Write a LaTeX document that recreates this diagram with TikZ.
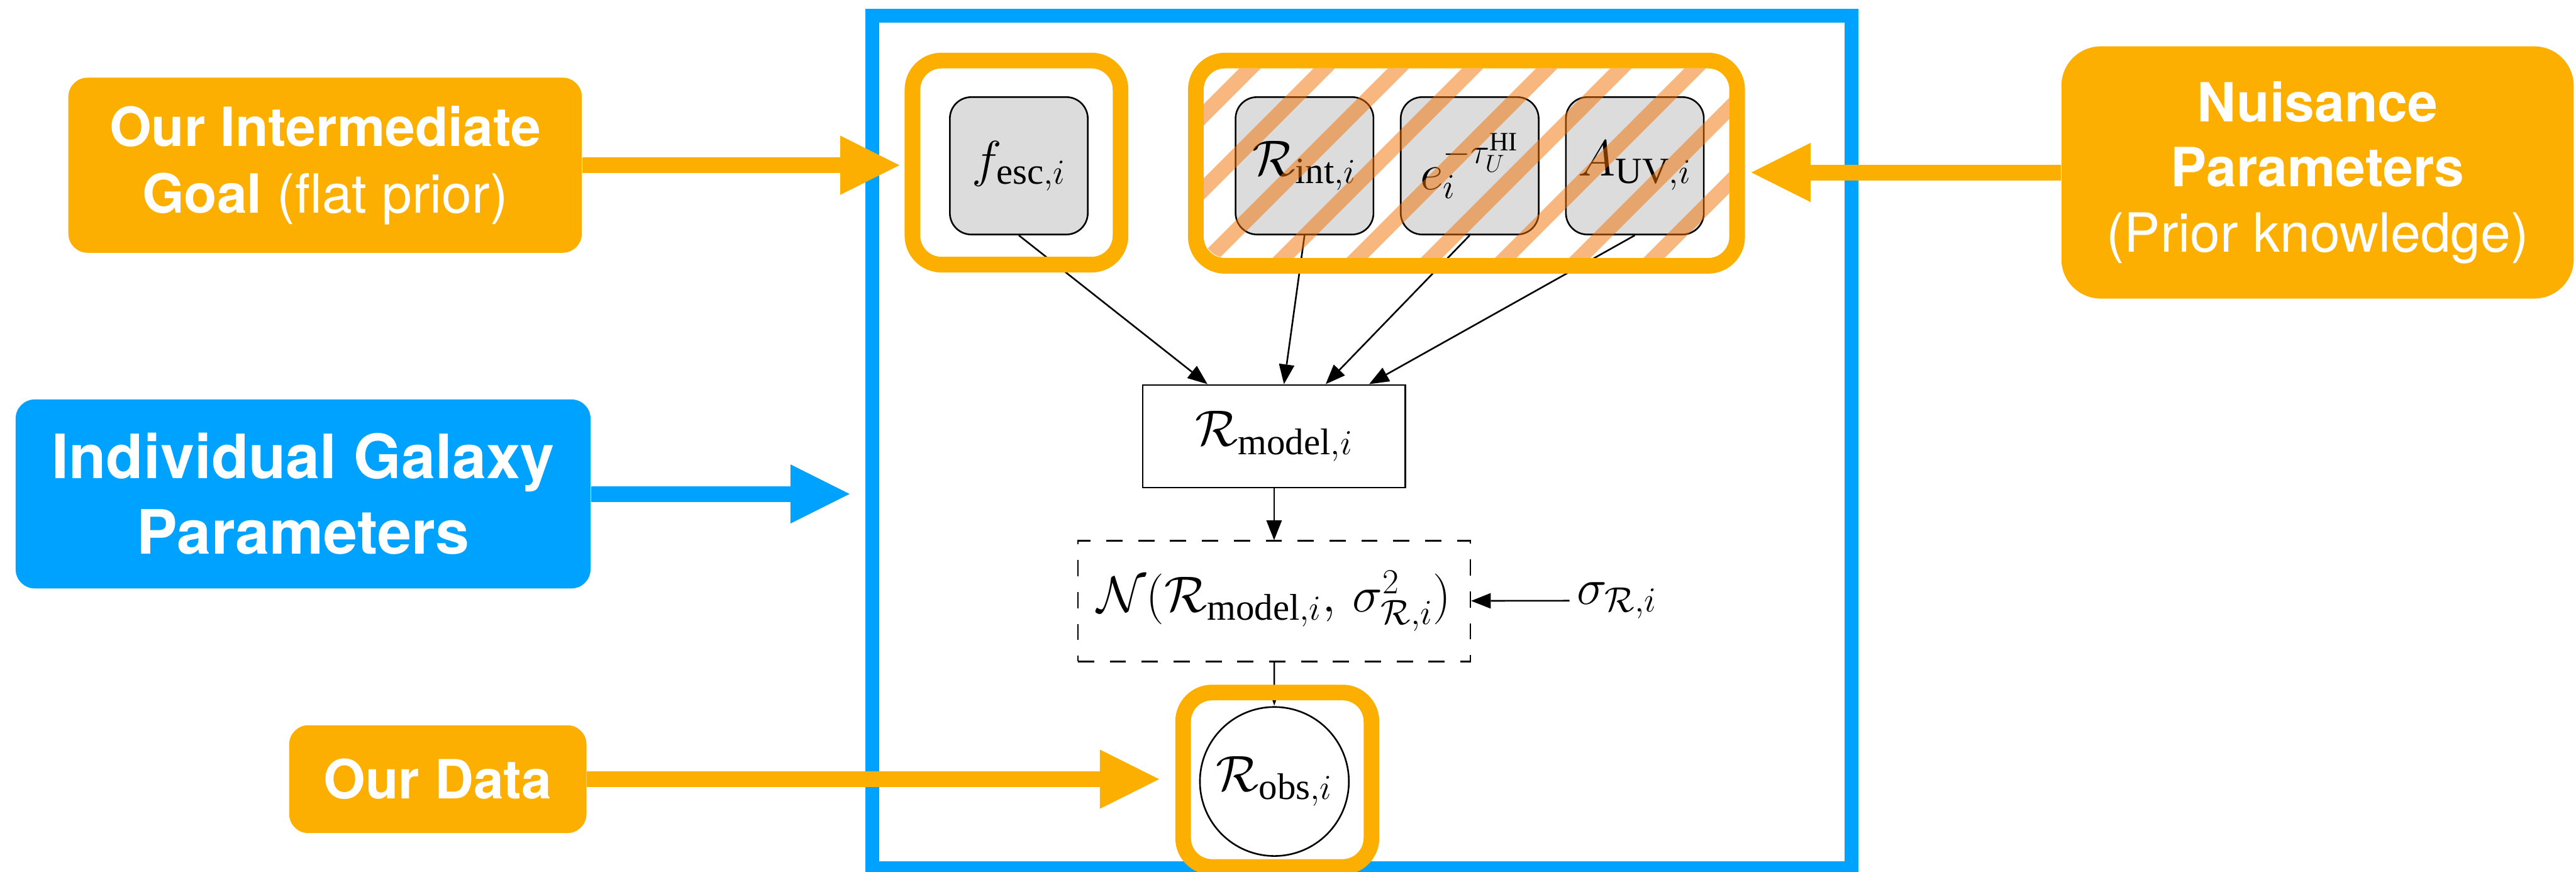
\documentclass[tikz,border=0pt]{standalone}
\usepackage{fontspec}
\setmainfont{Liberation Serif}
\newfontfamily\labelfont{TeX Gyre Heros}
\usetikzlibrary{arrows.meta}

\definecolor{goalorange}{RGB}{253,175,0}
\definecolor{plateblue}{RGB}{0,162,255}
\definecolor{nodegray}{RGB}{220,220,220}
\definecolor{hatchorange}{RGB}{240,112,0}

\begin{document}
\begin{tikzpicture}[
  every node/.append style={font=\fontsize{26}{30}\selectfont},
  var/.style={draw, fill=nodegray, rounded corners=0.37cm, minimum width=2.38cm, minimum height=2.37cm, line width=0.8pt, inner sep=0pt},
  det/.style={draw, minimum width=4.53cm, minimum height=1.77cm, line width=0.8pt},
  lik/.style={draw, dash pattern=on 0.28cm off 0.27cm, minimum width=6.77cm, minimum height=2.08cm, line width=0.8pt},
  obs/.style={draw, circle, minimum size=2.57cm, line width=0.8pt, inner sep=0pt},
  ring/.style={draw=goalorange, line width=0.27cm, rounded corners=0.5cm, outer sep=0pt},
  tag/.style={fill=goalorange, text=white, rounded corners=0.33cm, align=center, font=\labelfont\fontsize{26.5}{32.7}\selectfont},
  link/.style={line width=0.8pt, -{Triangle[length=0.34cm, width=0.27cm, line width=0pt]}},
  fat/.style={line width=0.27cm, -{Triangle[length=1.02cm, width=1.02cm, line width=0pt]}},
  hatch/.style={hatchorange, opacity=0.5, line width=0.26cm}
]
\useasboundingbox (0,0) rectangle (44.45,15.04);

% plate
\draw[plateblue, line width=0.24cm] (15.05,0.06) rectangle (31.95,14.77);

% per-galaxy parameters
\node[var] (fesc) at (17.58, 12.18) {$f_{\mathrm{esc},i}$};
\node[var] (rint) at (22.51, 12.18) {$\mathcal{R}_{\mathrm{int},i}$};
\node[var] (tau) at (25.36, 12.18) {$e_i^{-\tau_U^{\mathrm{HI}}}$};
\node[var] (auv) at (28.21, 12.18) {$A_{\mathrm{UV},i}$};

\node[det] (model) at (21.985, 7.515) {$\mathcal{R}_{\mathrm{model},i}$};
\node[lik] (lik) at (21.985, 4.67) {$\mathcal{N}(\mathcal{R}_{\mathrm{model},i},\, \sigma^2_{\mathcal{R},i})$};
\node (sig) at (27.9, 4.68) {$\sigma_{\mathcal{R},i}$};
\node[obs] (robs) at (21.99, 1.56) {$\mathcal{R}_{\mathrm{obs},i}$};

\draw[link] (fesc.south) -- ([xshift=-1.15cm]model.north);
\draw[link] (rint.south) -- ([xshift=0.17cm]model.north);
\draw[link] (tau.south) -- ([xshift=0.89cm]model.north);
\draw[link] (auv.south) -- ([xshift=1.64cm]model.north);
\draw[link] (model) -- (lik);
\draw[link] (sig) -- (lik);
\draw[line width=0.8pt, -{Triangle[length=0.11cm, width=0.06cm]}] (lik) -- (robs);

% highlight rings
\node[ring, minimum width=3.59cm, minimum height=3.52cm] (goalring) at (17.54, 12.235) {};
\node[ring, minimum width=9.34cm, minimum height=3.54cm] (nuisring) at (25.305, 12.225) {};
\node[ring, minimum width=3.25cm, minimum height=3.01cm] (dataring) at (22.04, 1.59) {};

% stripes over the nuisance group
\begin{scope}
  \clip[rounded corners=0.4cm] ([shift={(0.135,0.135)}]nuisring.south west) rectangle ([shift={(-0.135,-0.135)}]nuisring.north east);
  \foreach \n in {-2,...,10}
    \draw[hatch] ({7.71+1.28*\n+10.3},10.3) -- ++(3.8,3.8);
\end{scope}

% call-out boxes
\node[tag, minimum width=8.86cm, minimum height=3.02cm] (goal) at (5.61, 12.19) {\textbf{Our Intermediate}\\\textbf{Goal} (flat prior)};
\node[tag, fill=plateblue, minimum width=9.92cm, minimum height=3.26cm, font=\labelfont\bfseries\fontsize{30}{37}\selectfont] (indiv) at (5.23, 6.52) {Individual Galaxy\\Parameters};
\node[tag, minimum width=5.13cm, minimum height=1.86cm] (data) at (7.555, 1.60) {\textbf{Our Data}};
\node[tag, rounded corners=0.68cm, minimum width=8.84cm, minimum height=4.35cm, font=\labelfont\fontsize{26.5}{31.9}\selectfont] (nuis) at (39.99, 12.065) {\textbf{Nuisance}\\\textbf{Parameters}\\(Prior knowledge)};

\coordinate (goaltip) at (15.52, 12.19);
\coordinate (indivtip) at (14.66, 6.52);
\coordinate (datatip) at (20.00, 1.60);
\coordinate (nuistip) at (30.22, 12.065);

\draw[fat, goalorange] (goal.east) -- (goaltip);
\draw[fat, plateblue] (indiv.east) -- (indivtip);
\draw[fat, goalorange] (data.east) -- (datatip);
\draw[fat, goalorange] (nuis.west) -- (nuistip);
\end{tikzpicture}
\end{document}
